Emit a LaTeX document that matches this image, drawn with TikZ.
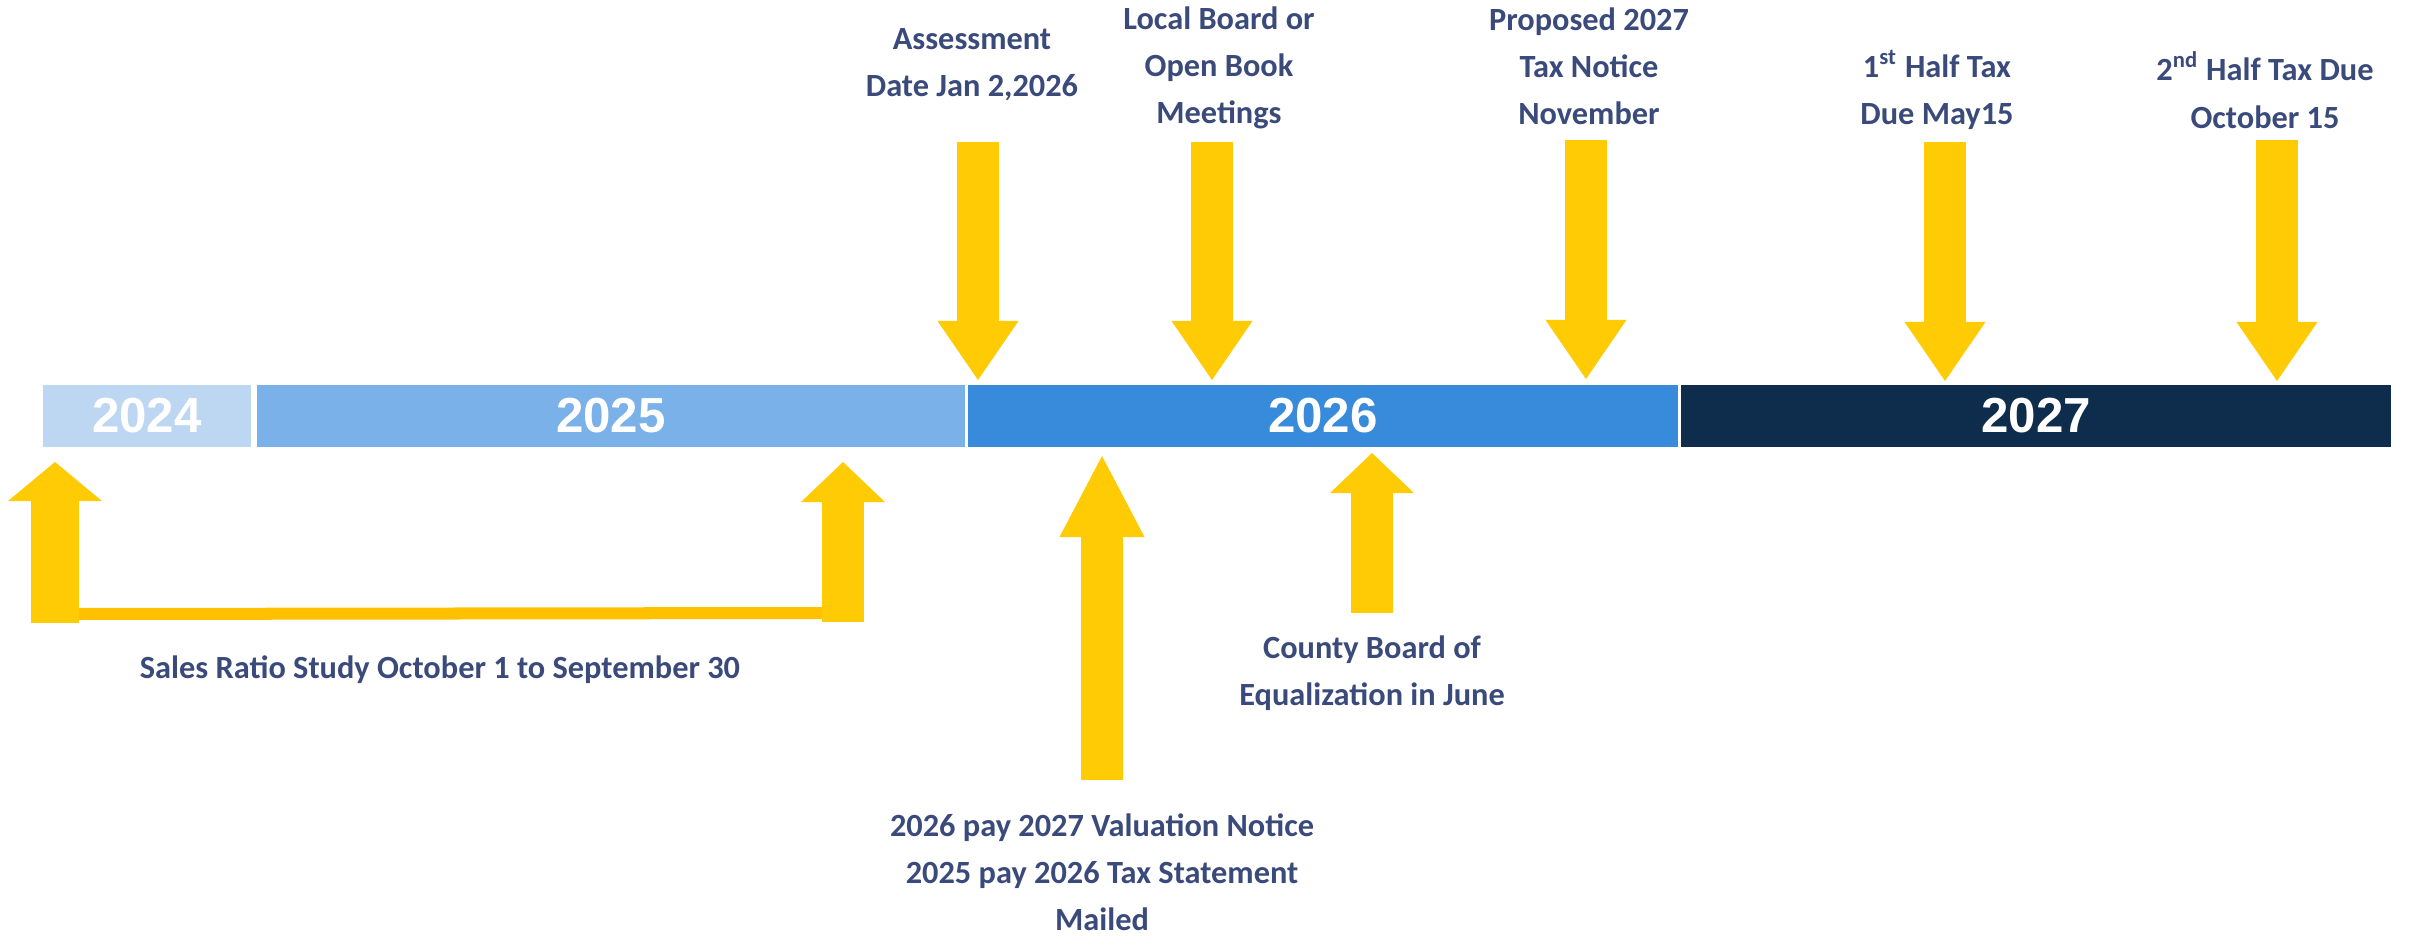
\documentclass[tikz,border=0pt]{standalone}
\usepackage{fontspec}
\setmainfont{Carlito}
\newfontfamily\yearfont{Liberation Sans}
\usetikzlibrary{arrows.meta,calc}

\definecolor{bar24}{HTML}{BDD7F2}
\definecolor{bar25}{HTML}{7AB1E8}
\definecolor{bar26}{HTML}{388BDB}
\definecolor{bar27}{HTML}{0E2D4C}
\definecolor{gold}{HTML}{FFCB05}
\definecolor{goldbar}{HTML}{FFC000}
\definecolor{ink}{HTML}{3A4A7B}

\begin{document}
\begin{tikzpicture}[x = 0.01cm, y = -0.01cm,
    yearbar/.style = {rectangle, inner sep = 0pt, minimum height = 0.62cm, text = white,
        font = \yearfont\bfseries\fontsize{14}{14}\selectfont},
    note/.style = {align = center, text = ink, inner sep = 0pt,
        font = \bfseries\fontsize{9.2}{13.4}\selectfont},
    down/.style = {draw = gold, line width = 4.2mm,
        -{Triangle[width = 8.1mm, length = 5.9mm, line width = 0pt]}},
    up/.style = {draw = gold, line width = 4.2mm,
        -{Triangle[width = 8.4mm, length = 4mm, line width = 0pt]}}]
    \useasboundingbox (0,0) rectangle (2420,936);
    % years
    \node (y2024) [yearbar, fill = bar24, minimum width = 2.08cm] at (147,416) {2024};
    \node (y2025) [yearbar, fill = bar25, minimum width = 7.08cm] at (611,416) {2025};
    \node (y2026) [yearbar, fill = bar26, minimum width = 7.09cm] at (1323,416) {2026};
    \node (y2027) [yearbar, fill = bar27, minimum width = 7.09cm] at (2036,416) {2027};
    % assessment
    \node (assess) [note] at (972,65) {Assessment\\Date Jan 2,2026};
    \coordinate (A) at (978,142);
    \coordinate (A') at (978,380);
    \path[draw, down](A)to(A');
    % local board
    \node (local) [note] at (1219,68) {Local Board or\\Open Book\\Meetings};
    \coordinate (L) at (1212,142);
    \coordinate (L') at (1212,380);
    \path[draw, down](L)to(L');
    % proposed notice
    \node (notice) [note] at (1589,66) {Proposed 2027\\Tax Notice\\November};
    \coordinate (N) at (1586,140);
    \coordinate (N') at (1586,379);
    \path[draw, down](N)to(N');
    % first half
    \node (first) [note] at (1937,90) {1\textsuperscript{st} Half Tax\\Due May15};
    \coordinate (F) at (1945,142);
    \coordinate (F') at (1945,381);
    \path[draw, down](F)to(F');
    % second half
    \node (second) [note] at (2265,90) {2\textsuperscript{nd} Half Tax Due\\October 15};
    \coordinate (S) at (2277,140);
    \coordinate (S') at (2277,381);
    \path[draw, down](S)to(S');
    % sales ratio study
    \node (sales) [note] at (440,670) {Sales Ratio Study October 1 to September 30};
    \coordinate (R1) at (55,623);
    \coordinate (R1') at (55,462);
    \coordinate (R2) at (843,622);
    \coordinate (R2') at (843,462);
    \path[draw, goldbar, line width = 1.2mm]($(R1)+(18,-9)$)to($(R2)+(-14,-9)$);
    \path[draw, up, line width = 4.7mm,
        -{Triangle[width = 9.4mm, length = 3.9mm, line width = 0pt]}](R1)to(R1');
    \path[draw, up](R2)to(R2');
    % valuation notice
    \node (mailed) [note] at (1102,872) {2026 pay 2027 Valuation Notice\\2025 pay 2026 Tax Statement\\Mailed};
    \coordinate (V) at (1102,780);
    \coordinate (V') at (1102,456);
    \path[draw, up, -{Triangle[width = 8.5mm, length = 8.1mm, line width = 0pt]}](V)to(V');
    % county board
    \node (county) [note] at (1372,673) {County Board of\\Equalization in June};
    \coordinate (C) at (1372,613);
    \coordinate (C') at (1372,453);
    \path[draw, up](C)to(C');
\end{tikzpicture}
\end{document}
